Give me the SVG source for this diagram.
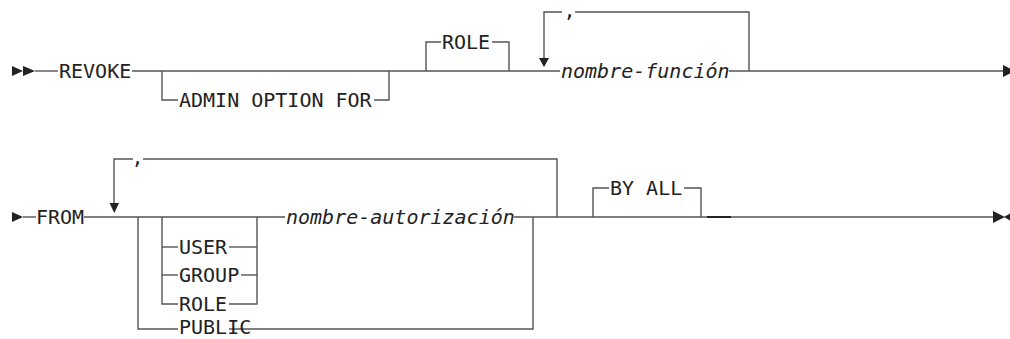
<svg xmlns="http://www.w3.org/2000/svg" width="1010" height="339" viewBox="0 0 1010 339">
<style>
.ln{fill:none;stroke:#555;stroke-width:1.4}
.ar{fill:#222;stroke:none}
.t{font-family:"DejaVu Sans Mono","Liberation Mono",monospace;font-size:20px;fill:#222}
.i{font-style:italic}
</style>
<rect width="1010" height="339" fill="#fff"/>
<g id="connectors">
<polygon class="ar" points="12,66 23,71 12,76"/>
<polygon class="ar" points="23,66 35,71 23,76"/>
<path class="ln" d="M35,71 H58"/>
<path class="ln" d="M132,71 H560"/>
<path class="ln" d="M729,71 H1004"/>
<path class="ln" d="M162,71 V100 H178"/>
<path class="ln" d="M374,100 H389 V71"/>
<path class="ln" d="M426,71 V42 H441"/>
<path class="ln" d="M492,42 H509 V71"/>
<path class="ln" d="M749,71 V12 H575"/>
<path class="ln" d="M562,12 H544 V58"/>
<polygon class="ar" points="539,58 549,58 544,67"/>
<polygon class="ar" points="1003,65 1015,71 1003,77"/>
<polygon class="ar" points="12,212 23,217 12,222"/>
<path class="ln" d="M23,217 H36"/>
<path class="ln" d="M84,217 H285"/>
<path class="ln" d="M514,217 H707"/>
<path class="ln" d="M731,217 H994"/>
<path class="ln" d="M707,217 H731" style="stroke:#222;stroke-width:2"/>
<path class="ln" d="M557,217 V159 H143"/>
<path class="ln" d="M133,159 H114 V203"/>
<polygon class="ar" points="109.5,203 119,203 114.3,213"/>
<path class="ln" d="M138,217 V329 H178"/>
<path class="ln" d="M229,329 H533 V217"/>
<path class="ln" d="M162,217 V304 H178"/>
<path class="ln" d="M162,247 H178"/>
<path class="ln" d="M162,275 H178"/>
<path class="ln" d="M229,247 H257"/>
<path class="ln" d="M241,275 H257"/>
<path class="ln" d="M229,304 H257 V217"/>
<path class="ln" d="M593,217 V188 H609"/>
<path class="ln" d="M684,188 H701 V217"/>
<polygon class="ar" points="993,211 1005,217 993,223"/>
<polygon class="ar" points="1011,213 1004,217 1011,221"/>
</g>
<g id="n-revoke"><text class="t" x="59" y="78">REVOKE</text></g>
<g id="n-admin"><text class="t" x="179" y="107">ADMIN OPTION FOR</text></g>
<g id="n-role1"><text class="t" x="442" y="49">ROLE</text></g>
<g id="n-comma1"><text class="t" x="569.5" y="17" text-anchor="middle">,</text></g>
<g id="n-funcion"><text class="t i" x="561" y="78">nombre-función</text></g>
<g id="n-from"><text class="t" x="36" y="224">FROM</text></g>
<g id="n-comma2"><text class="t" x="137.5" y="164" text-anchor="middle">,</text></g>
<g id="n-user"><text class="t" x="179" y="254">USER</text></g>
<g id="n-group"><text class="t" x="179" y="282">GROUP</text></g>
<g id="n-role2"><text class="t" x="179" y="311">ROLE</text></g>
<g id="n-public"><text class="t" x="179" y="334">PUBLIC</text></g>
<g id="n-autorizacion"><text class="t i" x="286" y="224">nombre-autorización</text></g>
<g id="n-byall"><text class="t" x="610" y="195">BY ALL</text></g>
</svg>
